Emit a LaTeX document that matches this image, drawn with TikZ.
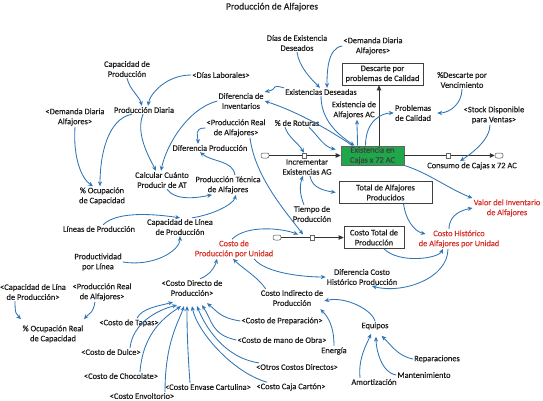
\documentclass[tikz,border=0pt]{standalone}
\usepackage{fontspec}
\setmainfont{Carlito}
\newfontfamily\diafont{Carlito}[FakeBold=0.35]
\usetikzlibrary{arrows.meta}
\definecolor{arrowblue}{RGB}{46,117,182}
\definecolor{redtxt}{RGB}{215,48,39}
\definecolor{stockgreen}{RGB}{30,168,74}
\definecolor{txt}{RGB}{30,30,30}
\begin{document}
\begin{tikzpicture}[x=1pt,y=-1pt,
  lab/.style={align=center,font=\diafont\fontsize{8.4}{10}\selectfont,text=txt,inner sep=1pt},
  redlab/.style={lab,text=redtxt},
  boxlab/.style={lab,draw=black!75,line width=0.7pt,inner sep=2pt,fill=white},
  stockbox/.style={lab,draw=black!60,fill=stockgreen,line width=0.6pt,minimum width=63pt,minimum height=19pt,inner sep=1pt,text=black!75},
  conn/.style={draw=arrowblue,line width=0.85pt,-{Stealth[length=4.8pt,width=4.2pt]}},
  flowline/.style={draw=black!80,line width=0.9pt,-{Triangle[length=5pt,width=4.5pt]}},
  valvestyle/.style={draw=black!60,fill=white,line width=0.5pt,minimum width=4pt,minimum height=5pt,inner sep=0pt},
  cloudstyle/.style={draw=black!70,fill=white,line width=0.5pt,rounded corners=2pt,minimum width=8pt,minimum height=5pt,inner sep=0pt}]
\useasboundingbox (0,0) rectangle (543,401);

% title
\node[font=\diafont\fontsize{9.6}{11}\selectfont,text=txt] (title) at (272,7) {Producción de Alfajores};

% variables
\node[lab] (diasExist) at (297,43) {Días de Existencia\\Deseados};
\node[lab] (demTop) at (373,46) {<Demanda Diaria\\Alfajores>};
\node[boxlab,minimum width=81pt,minimum height=22pt] (descarte) at (382.5,74) {Descarte por\\problemas de Calidad};
\node[lab] (pctDesc) at (462,80) {\%Descarte por\\Vencimiento};
\node[lab] (capProd) at (127,69) {Capacidad de\\Producción};
\node[lab] (diasLab) at (221,75) {<Días Laborales>};
\node[lab] (existDes) at (321,92) {Existencias Deseadas};
\node[lab] (difInv) at (241,101) {Diferencia de\\Inventarios};
\node[lab] (prodDiaria) at (144,110) {Producción Diaria};
\node[lab] (demLeft) at (75,117) {<Demanda Diaria\\Alfajores>};
\node[lab] (existAC) at (354,110) {Existencia de\\Alfajores AC};
\node[lab] (probCal) at (413,113) {Problemas\\de Calidad};
\node[lab] (stockDisp) at (494,115) {<Stock Disponible\\para Ventas>};
\node[lab] (prodReal) at (236,128) {<Producción Real\\de Alfajores>};
\node[lab] (roturas) at (297,123) {\% de Roturas};
\node[lab] (difProd) at (210,148) {Diferencia Producción};
\node[stockbox] (stock) at (372.5,155.5) {Existencia en\\Cajas x 72 AC};
\node[lab] (incr) at (307,167) {Incrementar\\Existencias AG};
\node[lab] (consumo) at (472,166) {Consumo de Cajas x 72 AC};
\node[lab] (calc) at (162,180) {Calcular Cuánto\\Producir de AT};
\node[lab] (prodTec) at (228,185) {Producción Técnica\\de Alfajores};
\node[lab] (ocup) at (102,196) {\% Ocupación\\de Capacidad};
\node[boxlab,minimum width=93pt,minimum height=22pt] (totalAlf) at (385.5,192.5) {Total de Alfajores\\Producidos};
\node[lab] (tiempo) at (312,214) {Tiempo de\\Producción};
\node[redlab] (valor) at (507,208) {Valor del Inventario\\de Alfajores};
\node[lab] (lineas) at (99,229) {Líneas de Producción};
\node[lab] (capLinea) at (180,227) {Capacidad de Línea\\de Producción};
\node[boxlab,minimum width=60pt,minimum height=22pt] (costoTotal) at (374,237.5) {Costo Total de\\Producción};
\node[redlab] (costoHist) at (459,239) {Costo Histórico\\de Alfajores por Unidad};
\node[redlab] (costoUnit) at (234,249) {Costo de\\Producción por Unidad};
\node[lab] (productividad) at (98,262) {Productividad\\por Línea};
\node[lab] (difCosto) at (362,277) {Diferencia Costo\\Histórico Producción};
\node[lab] (capLina) at (33,292) {<Capacidad de Lína\\de Producción>};
\node[lab] (prodReal2) at (102,292) {<Producción Real\\de Alfajores>};
\node[lab] (costoDir) at (192,288) {<Costo Directo de\\Producción>};
\node[lab] (costoInd) at (292,298) {Costo Indirecto de\\Producción};
\node[lab] (ocupReal) at (53,334) {\% Ocupación Real\\de Capacidad};
\node[lab] (tapas) at (129,323) {<Costo de Tapas>};
\node[lab] (prep) at (282,321) {<Costo de Preparación>};
\node[lab] (equipos) at (375,326) {Equipos};
\node[lab] (dulce) at (111,352) {<Costo de Dulce>};
\node[lab] (mano) at (282,340) {<Costo de mano de Obra>};
\node[lab] (energia) at (334,351) {Energía};
\node[lab] (repar) at (437,359) {Reparaciones};
\node[lab] (otros) at (297,367) {<Otros Costos Directos>};
\node[lab] (mant) at (424,375) {Mantenimiento};
\node[lab] (choc) at (121,376) {<Costo de Chocolate>};
\node[lab] (envase) at (208,387) {<Costo Envase Cartulina>};
\node[lab] (caja) at (291,387) {<Costo Caja Cartón>};
\node[lab] (amort) at (374,382) {Amortización};
\node[lab] (envolt) at (142,396) {<Costo Envoltorio>};

% flows
\node[cloudstyle] (cloud1) at (265,155.5) {};
\draw[flowline] (cloud1) -- (stock);
\node[valvestyle] (valve1) at (304,155.5) {};
\node[cloudstyle] (cloud2) at (499,155.5) {};
\draw[flowline] (stock) -- (cloud2);
\node[valvestyle] (valve2) at (448,155.5) {};
\draw[flowline] ([xshift=6.5pt]stock.north) -- ([xshift=-3.5pt]descarte.south);
\node[cloudstyle] (cloud3) at (277,237.5) {};
\draw[flowline] (cloud3) -- (costoTotal);
\node[valvestyle] (valve3) at (312,237.5) {};

% connectors (upper left)
\draw[conn] (capProd.south) .. controls +(3,12) and +(-3,-10) .. ([xshift=-2pt]prodDiaria.north);
\draw[conn] (diasLab.west) .. controls +(-25,0) and +(2,-12) .. ([xshift=4pt]prodDiaria.north);
\draw[conn] ([xshift=-12pt]prodDiaria.south) .. controls +(-25,5) and +(0,-30) .. ([xshift=-2pt]ocup.north);
\draw[conn] (demLeft.south) .. controls +(-2,30) and +(-12,-8) .. ([xshift=-9pt]ocup.north);
\draw[conn] ([xshift=-1pt]prodDiaria.south) .. controls +(-8,20) and +(-6,-12) .. ([xshift=-6pt]calc.north);
\draw[conn] (difInv.west) .. controls +(-30,8) and +(5,-25) .. ([xshift=-1pt]calc.north);
\draw[conn] ([xshift=5pt]calc.south) .. controls +(8,12) and +(-15,3) .. ([xshift=-16pt]prodTec.south);
\draw[conn] ([xshift=12pt]capLinea.north) .. controls +(20,-3) and +(-3,10) .. ([xshift=8pt]prodTec.south);
\draw[conn] ([xshift=4pt]lineas.north) .. controls +(15,-15) and +(-20,-3) .. (capLinea.north);
\draw[conn] (productividad.east) .. controls +(30,5) and +(0,15) .. (capLinea.south);
\draw[conn] ([xshift=7pt]prodTec.north) .. controls +(-2,-15) and +(12,10) .. ([xshift=-10pt]difProd.south);
\draw[conn] (prodReal.west) .. controls +(-12,0) and +(0,-8) .. ([xshift=-12pt]difProd.north);

% connectors (top centre)
\draw[conn] (existDes.north west) .. controls +(-15,-4) and +(15,-3) .. (difInv.north east);
\draw[conn] ([xshift=-20pt]stock.north) .. controls +(-30,-20) and +(30,10) .. (difInv.east);
\draw[conn] (diasExist.south) .. controls +(2,15) and +(-8,-8) .. ([xshift=-1pt]existDes.north);
\draw[conn] (demTop.west) .. controls +(-15,2) and +(0,-15) .. ([xshift=6pt]existDes.north);
\draw[conn] (existDes.south) .. controls +(0,25) and +(-15,-10) .. ([xshift=-18pt]stock.north);
\draw[conn] ([xshift=-15pt]stock.north) .. controls +(0,-10) and +(0,10) .. ([xshift=3pt]existAC.south);
\draw[conn] ([xshift=-7pt]stock.north) .. controls +(0,-25) and +(-12,0) .. (probCal.west);
\draw[conn] (pctDesc.south) .. controls +(0,15) and +(12,0) .. ([xshift=5pt]probCal.east);
\draw[conn] ([xshift=-4pt]stockDisp.south) .. controls +(0,15) and +(12,-8) .. ([xshift=-12pt]consumo.north);
\draw[conn] ([xshift=-12pt]roturas.south) .. controls +(3,10) and +(-6,-10) .. (valve1.north);
\draw[conn] ([xshift=12pt]roturas.south) .. controls +(10,10) and +(-12,-3) .. ([xshift=-5pt,yshift=6pt]stock.west);
\draw[conn] ([xshift=-8pt]tiempo.north) .. controls +(-5,-12) and +(-3,8) .. ([xshift=-4pt]incr.south);
\draw[conn] ([xshift=3pt]incr.south) .. controls +(2,12) and +(-12,-2) .. ([xshift=-3pt]totalAlf.west);

% connectors (right)
\draw[conn] (stock.south east) .. controls +(25,8) and +(-25,-10) .. (valor.north west);
\draw[conn] ([xshift=-10pt]costoHist.north) .. controls +(0,-15) and +(-10,2) .. (valor.west);
\draw[conn] ([xshift=18pt]totalAlf.south) .. controls +(2,15) and +(-12,-3) .. ([xshift=8pt,yshift=5pt]costoHist.west);
\draw[conn] ([xshift=10pt]costoTotal.south) .. controls +(15,15) and +(-5,10) .. ([xshift=-16pt]costoHist.south);
\draw[conn] ([xshift=-11pt]costoHist.south) .. controls +(0,30) and +(30,8) .. ([xshift=10pt]difCosto.south);
\draw[conn] ([xshift=20pt]costoUnit.south) .. controls +(12,15) and +(-20,0) .. (difCosto.west);
\draw[conn] ([xshift=-2pt]costoUnit.north) .. controls +(15,-15) and +(-15,-6) .. ([xshift=-14pt,yshift=3pt]valve3.center);
\draw[conn] ([xshift=14pt]prodReal.south) .. controls +(5,40) and +(-15,-20) .. ([xshift=-9pt,yshift=3pt]valve3.center);

% connectors (lower)
\draw[conn] ([xshift=8pt]costoDir.north) .. controls +(10,-4) and +(-2,8) .. ([xshift=-17pt]costoUnit.south);
\draw[conn] ([xshift=6pt]costoInd.north west) .. controls +(-8,-12) and +(10,10) .. ([xshift=-1pt]costoUnit.south);
\draw[conn] (equipos.north) .. controls +(-3,-12) and +(20,-5) .. ([yshift=-3pt]costoInd.east);
\draw[conn] (energia.north) .. controls +(0,-20) and +(8,8) .. ([xshift=-4pt,yshift=-2pt]costoInd.south east);
\draw[conn] (repar.west) .. controls +(-15,-3) and +(10,10) .. ([xshift=-8pt,yshift=-5pt]equipos.south east);
\draw[conn] (mant.west) .. controls +(-15,-2) and +(0,12) .. ([xshift=1pt,yshift=-6pt]equipos.south);
\draw[conn] ([xshift=-14pt]amort.north) .. controls +(-2,-20) and +(-4,10) .. ([xshift=-4pt,yshift=-3pt]equipos.south);

\draw[conn] ([xshift=8pt]tapas.north) .. controls +(5,-10) and +(-15,4) .. ([xshift=-19pt,yshift=-5pt]costoDir.south);
\draw[conn] ([xshift=19pt]dulce.north) .. controls +(3,-25) and +(-20,5) .. ([xshift=-15pt,yshift=-8pt]costoDir.south);
\draw[conn] ([xshift=19pt]choc.north) .. controls +(3,-40) and +(-15,10) .. ([xshift=-11pt,yshift=-9pt]costoDir.south);
\draw[conn] ([xshift=23pt]envolt.north) .. controls +(0,-50) and +(-5,15) .. ([xshift=-8pt,yshift=-9pt]costoDir.south);
\draw[conn] ([xshift=-18pt]envase.north) .. controls +(-3,-40) and +(0,15) .. ([xshift=-5pt,yshift=-9pt]costoDir.south);
\draw[conn] ([xshift=-24pt]caja.north) .. controls +(-35,-10) and +(5,25) .. ([yshift=-9pt]costoDir.south);
\draw[conn] ([xshift=-38pt]otros.north) .. controls +(-35,-5) and +(8,20) .. ([xshift=5pt,yshift=-9pt]costoDir.south);
\draw[conn] (mano.west) .. controls +(-25,-5) and +(10,15) .. ([xshift=10pt,yshift=-8pt]costoDir.south);
\draw[conn] (prep.west) .. controls +(-20,-3) and +(10,8) .. ([xshift=15pt,yshift=-6pt]costoDir.south);

\draw[conn] ([xshift=-18pt]capLina.south) .. controls +(0,12) and +(-5,-5) .. ([xshift=-32pt,yshift=5pt]ocupReal.north);
\draw[conn] ([xshift=-7pt]prodReal2.south) .. controls +(-2,12) and +(5,-6) .. ([xshift=31pt,yshift=5pt]ocupReal.north);
\end{tikzpicture}
\end{document}
